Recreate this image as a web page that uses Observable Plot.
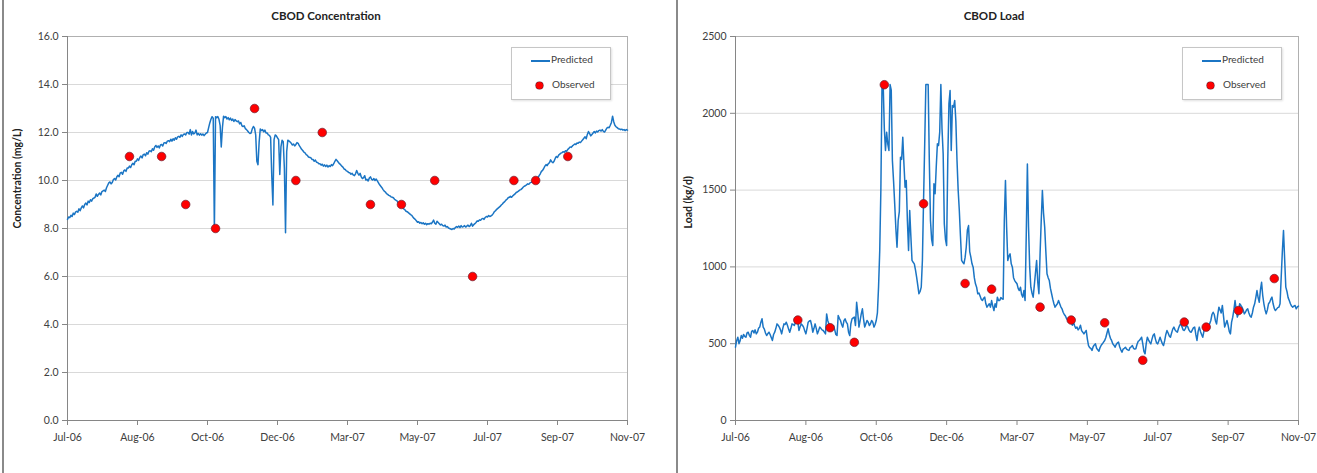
<!DOCTYPE html>
<html>
<head>
<meta charset="utf-8">
<script src="https://cdn.jsdelivr.net/npm/d3@7"></script>
<script src="https://cdn.jsdelivr.net/npm/@observablehq/plot@0.6"></script>
<style>
  body { margin: 0; background: #fff; font-family: Lato, "Open Sans", sans-serif; }
  #wrap { position: relative; width: 1317px; height: 473px; overflow: hidden; background: #fff; }
  .panel { position: absolute; top: 0; }
  .title { position: absolute; top: 9px; font-weight: bold; font-size: 11.5px; color: #222; text-align: center; }
  .border { position: absolute; top: 0; width: 2px; height: 473px; background: #8a8a8a; }
  .legend { position: absolute; border: 1px solid #c6c6c6; box-shadow: 1px 1px 2px rgba(0,0,0,0.12); background: #fff; width: 98px; height: 51px; font-size: 10px; color: #404040; }
  .legend span { position: absolute; white-space: nowrap; }
  .lg-line { position: absolute; left: 19px; top: 12px; width: 19px; height: 2px; background: #1b75c4; }
  .lg-dot { position: absolute; left: 24px; top: 34px; width: 7px; height: 7px; border-radius: 50%; background: #ff0000; box-shadow: 0 0 0 0.6px #6b2030; }
</style>
</head>
<body>
<div id="wrap">
  <div class="border" style="left:2px"></div>
  <div class="border" style="left:676px"></div>
  <div id="left" class="panel" style="left:0"></div>
  <div id="right" class="panel" style="left:660px"></div>
  <div class="title" style="left:-4px;width:660px">CBOD Concentration</div>
  <div class="title" style="left:676px;width:636px">CBOD Load</div>
  <div class="legend" style="left:511px;top:47px"><div class="lg-line"></div><span style="left:39px;top:5px">Predicted</span><div class="lg-dot"></div><span style="left:40px;top:30px">Observed</span></div>
  <div class="legend" style="left:1182px;top:47px"><div class="lg-line"></div><span style="left:39px;top:5px">Predicted</span><div class="lg-dot"></div><span style="left:40px;top:30px">Observed</span></div>
</div>
<script>
// ---------- data ----------
const startDate = "2006-07-01";
const endDate = "2007-11-01";

const tickDates = ["2006-07-01","2006-08-31","2006-10-31","2006-12-31","2007-03-02","2007-05-02","2007-07-02","2007-09-01","2007-11-01"];
const tickLabels = ["Jul-06","Aug-06","Oct-06","Dec-06","Mar-07","May-07","Jul-07","Sep-07","Nov-07"];

const concTicks = [0,2,4,6,8,10,12,14,16];
const loadTicks = [0,500,1000,1500,2000,2500];

const obsDates = ["2006-08-24","2006-09-21","2006-10-12","2006-11-07","2006-12-11","2007-01-16","2007-02-08","2007-03-22","2007-04-18","2007-05-17","2007-06-19","2007-07-25","2007-08-13","2007-09-10","2007-10-11"];
const obsConc = [11,11,9,8,13,10,12,9,9,10,6,10,10,11,null];
const obsLoad = [654,604,509,2186,1411,892,855,738,654,636,392,641,608,716,924];

// predicted: [day offset from startDate, value]
const concPredicted = [[0,8.38],[1,8.48],[2,8.45],[3,8.55],[4,8.50],[5,8.64],[6,8.58],[7,8.68],[8,8.72],[9,8.68],[10,8.82],[11,8.74],[12,8.86],[13,8.94],[14,8.86],[15,9.00],[16,9.06],[17,8.98],[18,9.14],[19,9.08],[20,9.20],[21,9.14],[22,9.24],[24,9.30],[25,9.44],[26,9.34],[27,9.42],[28,9.48],[29,9.40],[30,9.54],[32,9.60],[33,9.54],[34,9.70],[35,9.80],[36,9.90],[37,9.94],[38,9.86],[39,9.92],[40,10.04],[41,10.08],[42,10.02],[43,10.16],[44,10.22],[45,10.16],[46,10.32],[47,10.34],[48,10.26],[49,10.40],[50,10.44],[51,10.38],[52,10.52],[53,10.52],[54,10.60],[55,10.54],[56,10.66],[57,10.72],[58,10.66],[59,10.80],[60,10.80],[61,10.90],[62,10.84],[63,10.96],[64,11.02],[65,10.94],[66,11.08],[67,11.10],[68,11.03],[69,11.16],[70,11.10],[71,11.22],[72,11.24],[73,11.20],[74,11.32],[75,11.26],[76,11.40],[77,11.46],[78,11.38],[79,11.44],[80,11.36],[81,11.48],[82,11.50],[83,11.44],[84,11.56],[85,11.58],[86,11.54],[87,11.64],[88,11.66],[89,11.62],[90,11.72],[91,11.64],[92,11.74],[93,11.68],[94,11.78],[95,11.72],[96,11.82],[97,11.84],[98,11.80],[99,11.90],[100,11.84],[101,11.92],[102,11.94],[103,11.90],[104,12.00],[105,12.00],[106,11.93],[107,12.12],[108,11.90],[109,12.04],[110,11.94],[111,11.98],[112,12.10],[113,11.90],[114,11.96],[115,11.89],[116,11.95],[117,11.89],[118,11.94],[119,11.87],[120,11.93],[121,11.98],[122,12.00],[123,12.20],[124,12.40],[125,12.55],[126,12.66],[127,12.60],[128,7.92],[129,12.66],[130,12.62],[131,12.66],[132,12.55],[133,12.30],[134,11.40],[135,12.20],[136,12.68],[137,12.62],[138,12.66],[139,12.56],[140,12.62],[141,12.53],[142,12.60],[143,12.50],[144,12.56],[145,12.46],[146,12.54],[147,12.48],[148,12.45],[149,12.48],[150,12.36],[151,12.42],[152,12.28],[153,12.25],[154,12.28],[155,12.16],[156,12.12],[157,12.06],[158,12.00],[159,11.96],[160,11.98],[161,12.15],[162,12.25],[163,12.18],[164,11.90],[165,10.80],[166,10.66],[167,11.60],[168,12.15],[169,12.08],[170,12.12],[171,12.03],[172,12.10],[173,11.98],[174,11.98],[175,11.90],[176,11.88],[177,11.80],[178,10.20],[179,8.98],[180,11.70],[181,11.90],[182,11.86],[183,11.78],[184,11.70],[185,10.25],[186,11.40],[187,11.68],[188,11.62],[189,10.50],[190,7.82],[191,11.20],[192,11.68],[193,11.65],[194,11.60],[195,11.55],[196,11.48],[197,11.52],[198,11.44],[199,11.50],[200,11.58],[201,11.55],[202,11.45],[203,11.38],[204,11.30],[205,11.25],[206,11.18],[207,11.15],[208,11.08],[209,11.05],[210,10.98],[212,10.95],[213,10.88],[214,10.88],[215,10.80],[216,10.85],[217,10.76],[218,10.75],[219,10.70],[220,10.70],[221,10.64],[222,10.68],[223,10.60],[224,10.65],[225,10.58],[226,10.64],[227,10.56],[228,10.62],[229,10.58],[230,10.66],[231,10.62],[232,10.70],[233,10.80],[234,10.88],[235,10.82],[236,10.76],[237,10.70],[238,10.66],[239,10.60],[240,10.56],[241,10.48],[242,10.46],[243,10.40],[244,10.38],[245,10.33],[246,10.32],[247,10.26],[248,10.30],[249,10.23],[250,10.20],[251,10.28],[252,10.42],[253,10.30],[254,10.22],[255,10.30],[256,10.15],[257,10.08],[258,10.12],[259,10.20],[260,10.02],[261,10.05],[262,9.98],[263,10.10],[264,10.15],[265,10.05],[266,10.02],[267,10.08],[268,10.00],[269,10.06],[270,9.98],[271,9.90],[272,9.82],[273,9.76],[274,9.70],[275,9.62],[276,9.56],[277,9.52],[278,9.45],[279,9.42],[280,9.38],[281,9.36],[282,9.32],[283,9.30],[284,9.28],[285,9.22],[286,9.18],[287,9.16],[288,9.08],[289,9.02],[290,8.98],[291,8.94],[292,8.88],[293,8.82],[294,8.78],[295,8.72],[296,8.70],[297,8.66],[298,8.62],[299,8.58],[300,8.55],[301,8.48],[302,8.42],[303,8.38],[304,8.32],[305,8.26],[306,8.28],[307,8.22],[308,8.25],[309,8.20],[310,8.24],[311,8.18],[312,8.22],[313,8.16],[314,8.20],[315,8.18],[316,8.22],[317,8.20],[318,8.26],[319,8.35],[320,8.22],[321,8.18],[322,8.30],[323,8.25],[324,8.20],[325,8.15],[326,8.18],[327,8.12],[328,8.10],[329,8.14],[330,8.06],[331,8.08],[332,8.02],[333,8.00],[334,7.98],[335,7.96],[336,8.00],[337,7.98],[338,8.04],[339,8.08],[340,8.05],[341,8.10],[342,8.04],[343,8.12],[344,8.06],[345,8.08],[346,8.12],[347,8.06],[348,8.10],[349,8.14],[350,8.08],[351,8.12],[352,8.22],[353,8.10],[354,8.16],[355,8.20],[356,8.25],[357,8.32],[358,8.30],[359,8.36],[360,8.34],[361,8.40],[362,8.42],[363,8.38],[364,8.46],[365,8.50],[366,8.48],[367,8.54],[368,8.50],[369,8.52],[370,8.56],[371,8.62],[372,8.70],[373,8.74],[374,8.80],[375,8.84],[376,8.88],[377,8.92],[378,8.98],[379,9.02],[380,9.08],[381,9.12],[382,9.18],[383,9.22],[384,9.28],[385,9.30],[386,9.34],[387,9.30],[388,9.36],[389,9.40],[390,9.44],[391,9.50],[392,9.52],[393,9.56],[394,9.60],[395,9.62],[396,9.66],[397,9.72],[398,9.76],[399,9.78],[400,9.82],[401,9.86],[402,9.84],[403,9.90],[404,9.92],[405,9.94],[406,9.98],[407,9.96],[408,10.02],[409,10.06],[410,10.12],[411,10.20],[412,10.28],[413,10.38],[414,10.42],[415,10.50],[416,10.60],[417,10.66],[418,10.62],[419,10.70],[420,10.74],[421,10.86],[422,10.78],[423,10.74],[424,10.80],[425,10.92],[426,11.00],[427,10.96],[428,11.06],[429,11.10],[430,11.14],[431,11.16],[432,11.20],[433,11.18],[434,11.24],[435,11.22],[436,11.30],[437,11.34],[438,11.40],[439,11.38],[440,11.44],[441,11.48],[442,11.52],[443,11.50],[444,11.56],[445,11.55],[446,11.60],[447,11.58],[448,11.64],[449,11.70],[450,11.76],[451,11.82],[452,11.74],[453,11.92],[454,12.04],[455,11.95],[456,11.86],[457,11.92],[458,11.98],[459,12.04],[460,11.98],[461,12.06],[462,12.02],[463,12.08],[464,12.10],[465,12.06],[466,12.12],[467,12.05],[468,12.02],[469,12.10],[470,12.18],[471,12.22],[472,12.20],[473,12.30],[474,12.42],[475,12.68],[476,12.45],[477,12.30],[478,12.24],[479,12.20],[480,12.16],[481,12.15],[482,12.12],[483,12.14],[484,12.10],[485,12.12],[486,12.08],[487,12.12],[488,12.10]];

const loadPredicted = [[0,477],[1,520],[2,542],[3,500],[4,520],[5,553],[6,535],[7,560],[8,548],[9,542],[10,570],[11,575],[12,555],[13,542],[14,580],[15,586],[16,570],[17,590],[18,564],[19,575],[20,600],[21,608],[22,640],[23,662],[24,608],[25,595],[26,570],[27,553],[28,565],[29,575],[30,560],[31,540],[32,521],[33,560],[34,575],[35,600],[36,629],[37,620],[38,608],[39,590],[40,564],[41,600],[42,629],[43,625],[44,640],[45,620],[46,595],[47,575],[48,600],[49,629],[50,625],[51,618],[52,640],[53,662],[54,640],[55,586],[56,610],[57,629],[58,620],[59,608],[60,585],[61,564],[62,600],[63,640],[64,648],[65,651],[66,620],[67,575],[68,600],[69,629],[70,600],[71,564],[72,585],[73,608],[74,600],[75,590],[76,586],[77,575],[78,564],[79,694],[80,650],[81,629],[82,600],[83,586],[84,600],[85,618],[86,590],[87,560],[88,553],[89,684],[90,665],[91,651],[92,625],[93,608],[94,650],[95,662],[96,640],[97,629],[98,575],[99,553],[100,630],[101,662],[102,668],[103,673],[104,618],[105,770],[106,700],[107,608],[108,650],[109,694],[110,727],[111,660],[112,608],[113,630],[114,651],[115,640],[116,618],[117,630],[118,651],[119,640],[120,608],[121,625],[122,651],[123,700],[124,870],[125,1100],[126,1500],[127,2187],[128,2190],[129,1900],[130,1758],[131,1877],[132,1800],[133,1758],[134,2187],[135,2150],[136,1693],[137,1560],[138,1410],[139,1250],[140,1128],[141,1302],[142,1360],[143,1714],[144,1700],[145,1844],[146,1670],[147,1519],[148,1562],[149,1300],[150,1107],[151,1367],[152,1200],[153,1042],[154,1030],[155,1020],[156,980],[157,933],[158,880],[159,825],[160,840],[161,868],[162,1042],[163,1432],[164,1800],[165,2187],[166,2187],[167,2187],[168,1693],[169,1302],[170,1180],[171,1139],[172,1541],[173,1476],[174,1650],[175,1801],[176,1790],[177,1877],[178,2187],[179,1900],[180,1736],[181,1280],[182,1180],[183,1139],[184,1700],[185,2061],[186,2148],[187,1758],[188,2050],[189,2040],[190,2083],[191,1950],[192,1693],[193,1500],[194,1367],[195,1200],[196,1042],[197,1030],[198,1020],[199,1060],[200,1128],[201,1240],[202,1269],[203,1100],[204,1063],[205,1020],[206,998],[207,930],[208,890],[209,868],[210,825],[211,830],[212,810],[213,790],[214,781],[215,795],[216,803],[217,760],[218,738],[219,750],[220,760],[221,738],[222,781],[223,745],[224,716],[225,760],[226,738],[227,803],[228,781],[229,781],[230,800],[231,792],[232,790],[233,1300],[234,1562],[235,1259],[236,1042],[237,1070],[238,1085],[239,1020],[240,998],[241,930],[242,911],[243,900],[244,890],[245,860],[246,846],[247,868],[248,820],[249,803],[250,846],[251,781],[252,1200],[253,1670],[254,1259],[255,1000],[256,868],[257,830],[258,803],[259,880],[260,960],[261,1042],[262,900],[263,825],[264,1085],[265,1300],[266,1497],[267,1350],[268,1259],[269,1100],[270,955],[271,930],[272,911],[273,860],[274,825],[275,790],[276,760],[277,738],[278,750],[279,760],[280,781],[281,760],[282,740],[283,727],[284,705],[285,690],[286,680],[287,662],[288,655],[289,640],[290,651],[291,640],[292,620],[293,640],[294,615],[295,600],[296,608],[297,590],[298,600],[299,620],[300,585],[301,575],[302,564],[303,575],[304,586],[305,530],[306,488],[307,475],[308,470],[309,456],[310,480],[311,492],[312,499],[313,470],[314,460],[315,451],[316,475],[317,490],[318,499],[319,510],[320,521],[321,540],[322,570],[323,597],[324,560],[325,535],[326,521],[327,500],[328,490],[329,477],[330,495],[331,505],[332,510],[333,480],[334,460],[335,445],[336,465],[337,470],[338,477],[339,465],[340,460],[341,456],[342,475],[343,480],[344,488],[345,470],[346,465],[347,467],[348,495],[349,515],[350,521],[351,530],[352,542],[353,500],[354,450],[355,434],[356,500],[357,542],[358,525],[359,510],[360,499],[361,530],[362,555],[363,564],[364,530],[365,505],[366,499],[367,520],[368,542],[369,520],[370,500],[371,488],[372,520],[373,560],[374,586],[375,570],[376,550],[377,542],[378,570],[379,595],[380,608],[381,590],[382,580],[383,575],[384,600],[385,620],[386,629],[387,610],[388,590],[389,586],[390,600],[391,618],[392,610],[393,590],[394,578],[395,575],[396,590],[397,605],[398,608],[399,560],[400,521],[401,580],[402,608],[403,580],[404,560],[405,542],[406,580],[407,608],[408,600],[409,590],[410,608],[411,630],[412,651],[413,690],[414,705],[415,690],[416,650],[417,629],[418,690],[419,738],[420,720],[421,700],[422,749],[423,680],[424,608],[425,630],[426,651],[427,620],[428,580],[429,564],[430,640],[431,673],[432,720],[433,781],[434,720],[435,673],[436,700],[437,760],[438,750],[439,738],[440,720],[441,694],[442,705],[443,720],[444,727],[445,700],[446,680],[447,673],[448,700],[449,738],[450,760],[451,800],[452,846],[453,800],[454,770],[455,850],[456,900],[457,813],[458,760],[459,720],[460,694],[461,720],[462,760],[463,770],[464,790],[465,803],[466,760],[467,730],[468,716],[469,725],[470,735],[471,738],[472,760],[473,933],[474,1100],[475,1237],[476,1050],[477,868],[478,840],[479,800],[480,781],[481,760],[482,745],[483,738],[484,745],[485,749],[486,727],[487,740],[488,745]];

// ---------- build ----------
const parse = d3.utcParse("%Y-%m-%d");
const start = parse(startDate), end = parse(endDate);
const tickDateObjs = tickDates.map(parse);
const tickLabelMap = new Map(tickDateObjs.map((d, i) => [+d, tickLabels[i]]));
const toSeries = (pairs) => pairs.map(([d, v]) => ({date: new Date(+start + d * 864e5), value: v}));
const concObs = obsDates.map((d, i) => ({date: parse(d), value: obsConc[i]})).filter(d => d.value != null);
const loadObs = obsDates.map((d, i) => ({date: parse(d), value: obsLoad[i]})).filter(d => d.value != null);

const AXIS = "#868686", TEXT = "#404040", BLUE = "#1b75c4";

function chart({width, marginLeft, marginRight, yDomain, yTicks, yFormat, yLabel, labelDx, pred, obs}) {
  return Plot.plot({
    width, height: 473,
    marginLeft, marginRight, marginTop: 36, marginBottom: 53,
    style: {fontFamily: "Lato, 'Open Sans', sans-serif", fontSize: "10.5px", background: "transparent", color: TEXT, overflow: "visible"},
    x: {type: "utc", domain: [start, end]},
    y: {domain: yDomain},
    marks: [
      Plot.gridY(yTicks, {stroke: "#d9d9d9", strokeOpacity: 1, strokeWidth: 1}),
      Plot.frame({stroke: "#b0b0b0"}),
      Plot.ruleX([start], {stroke: AXIS}),
      Plot.ruleY([yDomain[0]], {stroke: AXIS}),
      Plot.axisY(yTicks, {tickSize: 5, tickPadding: 4, tickFormat: yFormat, label: null, stroke: AXIS, fill: TEXT}),
      Plot.axisX(tickDateObjs, {tickSize: 5, tickPadding: 8, tickFormat: d => tickLabelMap.get(+d), label: null, stroke: AXIS, fill: TEXT}),
      Plot.text([yLabel], {text: d => d, frameAnchor: "left", rotate: -90, dx: labelDx, fontWeight: "bold", fontSize: 10.5, fill: "#222"}),
      Plot.line(toSeries(pred), {x: "date", y: "value", stroke: BLUE, strokeWidth: 1.5}),
      Plot.dot(obs, {x: "date", y: "value", r: 4.3, fill: "#ff0000", stroke: "#6b2030", strokeWidth: 0.7})
    ]
  });
}

document.getElementById("left").append(chart({
  width: 660, marginLeft: 67, marginRight: 33,
  yDomain: [0, 16], yTicks: concTicks, yFormat: d => d.toFixed(1),
  yLabel: "Concentration (mg/L)", labelDx: -50,
  pred: concPredicted, obs: concObs
}));
document.getElementById("right").append(chart({
  width: 657, marginLeft: 75, marginRight: 19,
  yDomain: [0, 2500], yTicks: loadTicks, yFormat: d => String(d),
  yLabel: "Load (kg/d)", labelDx: -47,
  pred: loadPredicted, obs: loadObs
}));
</script>
</body>
</html>
